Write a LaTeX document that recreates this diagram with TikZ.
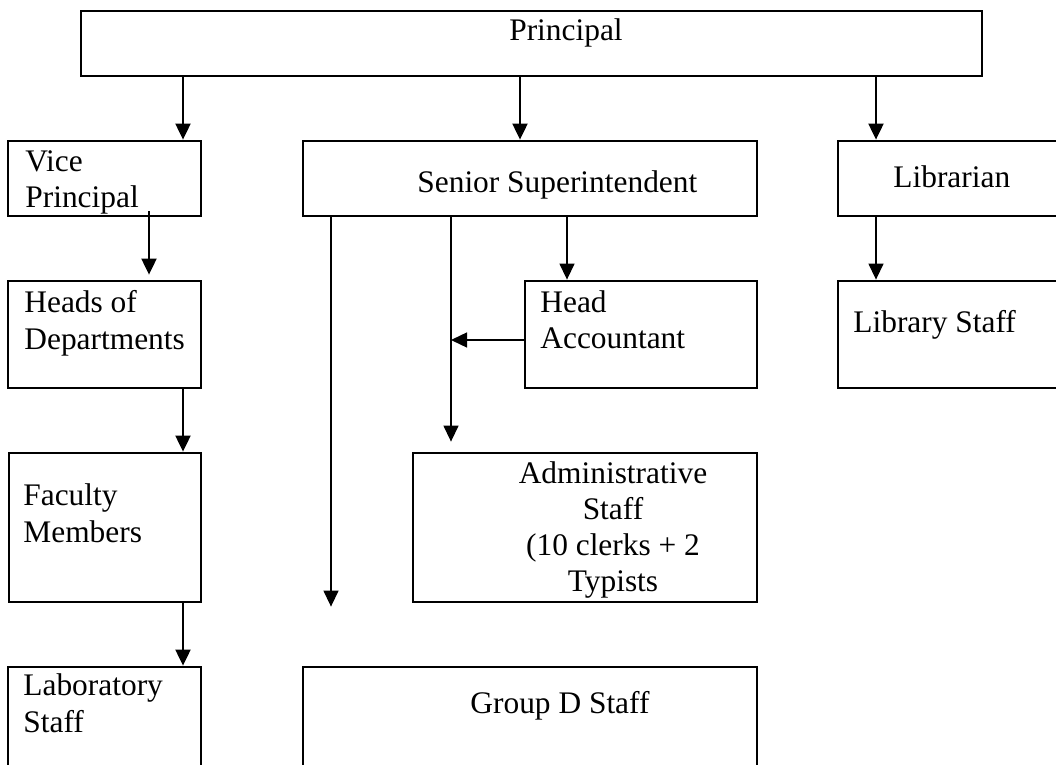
\documentclass[tikz,border=0pt]{standalone}
\usepackage{fontspec}
\setmainfont{Liberation Serif}
\usetikzlibrary{arrows.meta,fit}

\begin{document}
\begin{tikzpicture}[x=0.5pt,y=-0.5pt,
  box/.style={draw,line width=1.4pt,rectangle,inner sep=0pt},
  txt/.style={inner sep=0pt,anchor=base west,font=\fontsize{15.7}{18}\selectfont},
  arr/.style={line width=1pt,-{Triangle[width=7.5pt,length=8pt]}},
  thinarr/.style={line width=0.7pt,-{Triangle[width=7.5pt,length=8pt]}}]
\useasboundingbox (0,0) rectangle (1056,765);
\clip (0,0) rectangle (1056,765);

% boxes
\node[box,fit={(81,11) (982,76)}] (prin) {};
\node[box,fit={(8,141) (201,216)}] (vp) {};
\node[box,fit={(303,141) (757,216)}] (sup) {};
\node[box,fit={(838,141) (1075,216)}] (lib) {};
\node[box,fit={(8,281) (201,388)}] (hod) {};
\node[box,fit={(525,281) (757,388)}] (acc) {};
\node[box,fit={(838,281) (1075,388)}] (libst) {};
\node[box,fit={(9,453) (201,602)}] (fac) {};
\node[box,fit={(413,453) (757,602)}] (adm) {};
\node[box,fit={(8,667) (201,800)}] (lab) {};
\node[box,fit={(303,667) (757,800)}] (grpd) {};

% texts
\node[txt,anchor=base] (tprin) at (566,41) {Principal};
\node[txt] (tvp1) at (25,171) {Vice};
\node[txt] (tvp2) at (25,207) {Principal};
\node[txt] (tsup) at (417,192) {Senior Superintendent};
\node[txt] (tlib) at (893,188) {Librarian};
\node[txt] (thod1) at (24,313) {Heads of};
\node[txt] (thod2) at (24,350) {Departments};
\node[txt] (tacc1) at (540,312) {Head};
\node[txt] (tacc2) at (540,348) {Accountant};
\node[txt] (tlibst) at (853,332) {Library Staff};
\node[txt] (tfac1) at (23,505) {Faculty};
\node[txt] (tfac2) at (23,542) {Members};
\node[txt,anchor=base] (tadm1) at (613,483) {Administrative};
\node[txt,anchor=base] (tadm2) at (613,519) {Staff};
\node[txt,anchor=base] (tadm3) at (613,555) {(10 clerks + 2};
\node[txt,anchor=base] (tadm4) at (613,591) {Typists};
\node[txt] (tlab1) at (23,695) {Laboratory};
\node[txt] (tlab2) at (23,732) {Staff};
\node[txt,anchor=base] (tgrpd) at (560,713) {Group D Staff};

% arrows
\draw[arr] (prin.south -| 183,0) -- (vp.north -| 183,0);
\draw[arr] (prin.south -| 520,0) -- (sup.north -| 520,0);
\draw[arr] (prin.south -| 876,0) -- (lib.north -| 876,0);
\draw[arr,shorten >=2.5pt] (vp.south -| 149,0) ++(0,-6) -- (hod.north -| 149,0);
\draw[arr] (hod.south -| 183,0) -- (fac.north -| 183,0);
\draw[arr] (fac.south -| 183,0) -- (lab.north -| 183,0);
\draw[thinarr,shorten >=29.5pt] (sup.south -| 331,0) -- (grpd.north -| 331,0);
\draw[thinarr,shorten >=5pt] (sup.south -| 451,0) -- (adm.north -| 451,0);
\draw[thinarr] (sup.south -| 567,0) -- (acc.north -| 567,0);
\coordinate (join) at (451,340);
\draw[thinarr] (acc.west |- join) -- (join);
\draw[thinarr] (lib.south -| 876,0) -- (libst.north -| 876,0);
\end{tikzpicture}
\end{document}
